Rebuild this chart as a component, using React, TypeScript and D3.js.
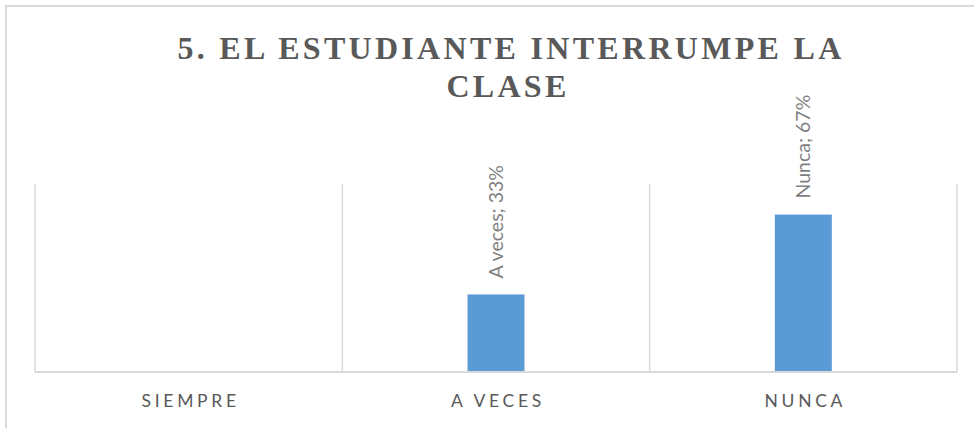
import { useEffect, useRef } from "react";
import * as d3 from "d3";

const categories = ["Siempre", "A veces", "Nunca"];
const values = [0, 0.33, 0.67];
const labels = ["", "A veces; 33%", "Nunca; 67%"];
const titleLines = ["5. EL ESTUDIANTE INTERRUMPE LA", "CLASE"];

const W = 974;
const H = 428;

export default function App() {
  const ref = useRef<SVGSVGElement | null>(null);

  useEffect(() => {
    if (!ref.current) return;
    const svg = d3.select(ref.current);
    svg.selectAll("*").remove();

    const margin = { top: 184, right: 17, bottom: 56, left: 35 };
    const innerW = W - margin.left - margin.right;
    const innerH = H - margin.top - margin.bottom;

    // outer chart frame (only top/left visible in the crop)
    svg
      .append("rect")
      .attr("x", 6)
      .attr("y", 6)
      .attr("width", W + 20)
      .attr("height", H + 20)
      .attr("fill", "#fff")
      .attr("stroke", "#d9d9d9")
      .attr("stroke-width", 2);

    const title = svg
      .append("text")
      .attr("text-anchor", "middle")
      .attr("font-family", "'Liberation Serif', 'Times New Roman', serif")
      .attr("font-weight", "bold")
      .attr("font-size", 32)
      .attr("letter-spacing", 3.3)
      .attr("fill", "#595959");
    titleLines.forEach((t, i) => {
      title
        .append("tspan")
        .attr("x", i === 0 ? 511 : 508)
        .attr("y", 59 + i * 38)
        .text(t);
    });

    const g = svg
      .append("g")
      .attr("transform", `translate(${margin.left},${margin.top})`);

    const x = d3.scaleBand().domain(categories).range([0, innerW]);
    const y = d3.scaleLinear().domain([0, 0.8]).range([innerH, 0]);

    // vertical category separators
    const edges = [0, ...categories.map((c) => (x(c) ?? 0) + x.bandwidth())];
    g.selectAll("line.sep")
      .data(edges)
      .join("line")
      .attr("class", "sep")
      .attr("x1", (d) => d)
      .attr("x2", (d) => d)
      .attr("y1", 0)
      .attr("y2", innerH)
      .attr("stroke", "#d9d9d9")
      .attr("stroke-width", 1.5);

    const barW = 57;
    g.selectAll("rect.bar")
      .data(values)
      .join("rect")
      .attr("class", "bar")
      .attr("x", (_, i) => (x(categories[i]) ?? 0) + x.bandwidth() / 2 - barW / 2)
      .attr("y", (d) => y(d))
      .attr("width", barW)
      .attr("height", (d) => innerH - y(d))
      .attr("fill", "#5b9bd5");

    // baseline axis
    g.append("line")
      .attr("x1", 0)
      .attr("x2", innerW)
      .attr("y1", innerH)
      .attr("y2", innerH)
      .attr("stroke", "#d9d9d9")
      .attr("stroke-width", 2);

    // rotated data labels
    g.selectAll("text.lbl")
      .data(values)
      .join("text")
      .attr("class", "lbl")
      .attr("transform", (d, i) => {
        const cx = (x(categories[i]) ?? 0) + x.bandwidth() / 2;
        return `translate(${cx},${y(d) - 16}) rotate(-90)`;
      })
      .attr("dy", "0.36em")
      .attr("text-anchor", "start")
      .attr("font-family", "Lato, 'Open Sans', sans-serif")
      .attr("font-size", 19.5)
      .attr("fill", "#7f7f7f")
      .text((_, i) => labels[i]);

    // category labels
    g.selectAll("text.cat")
      .data(categories)
      .join("text")
      .attr("class", "cat")
      .attr("x", (d) => (x(d) ?? 0) + x.bandwidth() / 2 + 2)
      .attr("y", innerH + 35)
      .attr("text-anchor", "middle")
      .attr("font-family", "Lato, 'Open Sans', sans-serif")
      .attr("font-size", 17.5)
      .attr("letter-spacing", 3.7)
      .attr("fill", "#595959")
      .text((d) => d.toUpperCase());
  }, []);

  return (
    <svg
      ref={ref}
      width={W}
      height={H}
      style={{ position: "absolute", left: 0, top: 0, background: "#fff" }}
    />
  );
}
